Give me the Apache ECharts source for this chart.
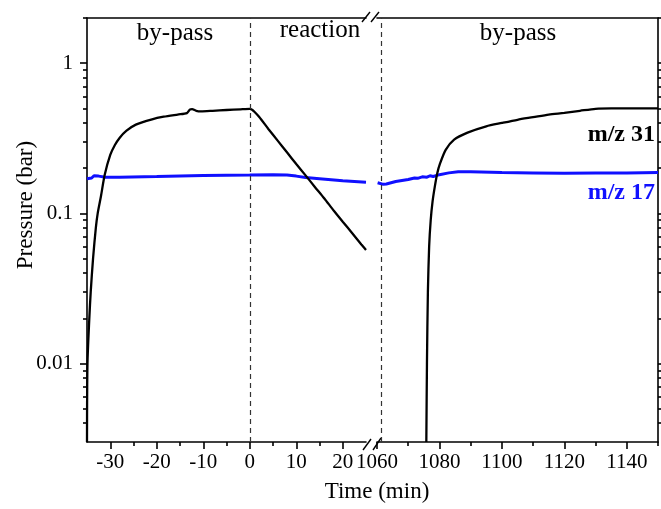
<!DOCTYPE html>
<html>
<head>
<meta charset="utf-8">
<script src="https://cdn.jsdelivr.net/npm/echarts@6/dist/echarts.min.js"></script>
<style>html,body{margin:0;padding:0;background:#fff}#c{width:661px;height:509px}</style>
</head>
<body>
<div id="c"></div>
<script>
// ---- data ----
const leftM31 = [[-35,0.003],[-34.9,0.01],[-34.5,0.02],[-34.2,0.03],[-33.7,0.05],[-33.1,0.08],[-32.7,0.1],[-32,0.13],[-31.2,0.18],[-30,0.245],[-29,0.285],[-28,0.318],[-26.5,0.355],[-24.5,0.39],[-21,0.423],[-18.5,0.44],[-15.5,0.455],[-13.5,0.465],[-12.9,0.49],[-12.4,0.495],[-11.5,0.482],[-10.5,0.478],[-8,0.482],[-5,0.488],[-2,0.493],[0,0.496],[0.5,0.49],[1,0.475],[2,0.44],[4,0.365],[6,0.305],[8,0.255],[10,0.213],[12,0.179],[14,0.15],[16,0.126],[18,0.105],[20,0.088],[22,0.074],[24,0.062],[25,0.057]];
const leftM17 = [[-35,0.170],[-34,0.172],[-33.5,0.178],[-32.5,0.177],[-31,0.174],[-28,0.174],[-20,0.176],[-10,0.179],[0,0.180],[5,0.181],[8,0.180],[10,0.177],[12,0.173],[15,0.170],[20,0.165],[25,0.161]];
const rightM31 = [[1075.8,0.003],[1076,0.01],[1076.3,0.03],[1076.7,0.06],[1077.2,0.09],[1077.8,0.12],[1078.5,0.15],[1079.3,0.185],[1080.2,0.215],[1082,0.265],[1084.7,0.31],[1089,0.345],[1095,0.38],[1100,0.40],[1105,0.42],[1110,0.437],[1115,0.455],[1120,0.467],[1125,0.482],[1130,0.497],[1135,0.5],[1150,0.5]];
const rightM17 = [[1060.2,0.160],[1062,0.156],[1063,0.157],[1066,0.163],[1070,0.168],[1072,0.172],[1073,0.171],[1074.5,0.175],[1076,0.174],[1077,0.178],[1078,0.176],[1080,0.181],[1083,0.186],[1086,0.189],[1090,0.189],[1100,0.187],[1110,0.186],[1120,0.185],[1130,0.186],[1140,0.186],[1150,0.187]];
const leftXRange = [-35, 25];
const rightXRange = [1060, 1150];
const leftXMajor = [-30,-20,-10,0,10,20];
const leftXMinor = [-25,-15,-5,5,15];
const rightXMajor = [1060,1080,1100,1120,1140];
const rightXMinor = [1070,1090,1110,1130,1150];
const yRange = [0.003, 2];
const yMajor = [0.01, 0.1, 1];
const yMajorLabels = ['0.01', '0.1', '1'];
const yMinor = [0.004,0.005,0.006,0.007,0.008,0.009,0.02,0.03,0.04,0.05,0.06,0.07,0.08,0.09,0.2,0.3,0.4,0.5,0.6,0.7,0.8,0.9,2];
const markerTimes = [0, 1061.3];

// ---- chart ----
const FONT = "'Liberation Serif','Times New Roman',serif";
const chart = echarts.init(document.getElementById('c'), null, {renderer: 'canvas'});
const LW = 1.6;
const lineStyle = {color: '#000', width: LW};
const lg = v => Math.log10(v);
const BLUE = '#1010ff';
const grids = [
  {left: 87, top: 18, width: 279, height: 424, containLabel: false, outerBoundsMode: 'none'},
  {left: 377, top: 18, width: 281, height: 424, containLabel: false, outerBoundsMode: 'none'}
];
function xAxes(gi, range, major, minor) {
  return [
    {type: 'value', gridIndex: gi, position: 'bottom', min: range[0], max: range[1],
     axisLine: {show: true, onZero: false, lineStyle: lineStyle}, splitLine: {show: false},
     axisTick: {show: true, inside: false, length: 7, customValues: major, lineStyle: lineStyle},
     axisLabel: {show: true, customValues: major, margin: 10, color: '#000', fontFamily: FONT, fontSize: 21,
       formatter: v => String(v)}},
    {type: 'value', gridIndex: gi, position: 'bottom', min: range[0], max: range[1],
     axisLine: {show: false, onZero: false}, splitLine: {show: false}, axisLabel: {show: false},
     axisTick: {show: true, inside: false, length: 4, customValues: minor, lineStyle: lineStyle}},
    {type: 'value', gridIndex: gi, position: 'top', min: range[0], max: range[1],
     axisLine: {show: true, onZero: false, lineStyle: lineStyle}, splitLine: {show: false},
     axisTick: {show: false}, axisLabel: {show: false}}
  ];
}
function yAxes(gi, pos, labels) {
  return [
    {type: 'log', logBase: 10, gridIndex: gi, position: pos, min: yRange[0], max: yRange[1],
     axisLine: {show: true, onZero: false, lineStyle: lineStyle}, splitLine: {show: false},
     axisTick: {show: false}, axisLabel: {show: false}, minorTick: {show: false}},
    {type: 'value', gridIndex: gi, position: pos, min: lg(yRange[0]), max: lg(yRange[1]),
     axisLine: {show: false, onZero: false}, splitLine: {show: false},
     axisTick: {show: true, inside: false, length: 7, customValues: yMajor.map(lg), lineStyle: lineStyle},
     axisLabel: {show: labels, customValues: yMajor.map(lg), margin: 14, color: '#000', fontFamily: FONT, fontSize: 21,
       formatter: v => { let best = 0; yMajor.forEach((m, i) => { if (Math.abs(lg(m) - v) < Math.abs(lg(yMajor[best]) - v)) best = i; }); return yMajorLabels[best]; }}},
    {type: 'value', gridIndex: gi, position: pos, min: lg(yRange[0]), max: lg(yRange[1]),
     axisLine: {show: false, onZero: false}, splitLine: {show: false}, axisLabel: {show: false},
     axisTick: {show: true, inside: false, length: 4, customValues: yMinor.map(lg), lineStyle: lineStyle}}
  ];
}
const dashed = {silent: true, symbol: ['none', 'none'], label: {show: false},
  lineStyle: {type: [5, 4], color: '#333', width: 1.2}};
const blackLine = {showSymbol: false, clip: true, smooth: 0.25,
  lineStyle: {color: '#000', width: 2.3}, z: 3};
const blueLine = {showSymbol: false, clip: true, smooth: false,
  lineStyle: {color: BLUE, width: 3}, z: 2};
const option = {
  animation: false,
  backgroundColor: '#fff',
  grid: grids,
  xAxis: [...xAxes(0, leftXRange, leftXMajor, leftXMinor), ...xAxes(1, rightXRange, rightXMajor, rightXMinor)],
  yAxis: [...yAxes(0, 'left', true), ...yAxes(1, 'right', false)],
  series: [
    Object.assign({name: 'm/z 31', type: 'line', xAxisIndex: 0, yAxisIndex: 0, data: leftM31,
     markLine: Object.assign({data: [{xAxis: markerTimes[0]}]}, dashed)}, blackLine),
    Object.assign({name: 'm/z 17', type: 'line', xAxisIndex: 0, yAxisIndex: 0, data: leftM17}, blueLine),
    Object.assign({name: 'm/z 31', type: 'line', xAxisIndex: 3, yAxisIndex: 3, data: rightM31,
     markLine: Object.assign({data: [{xAxis: markerTimes[1]}]}, dashed)}, blackLine),
    Object.assign({name: 'm/z 17', type: 'line', xAxisIndex: 3, yAxisIndex: 3, data: rightM17}, blueLine)
  ],
  graphic: [
    {type: 'text', x: 175, y: 33, style: {text: 'by-pass', font: '25px ' + FONT, fill: '#000', align: 'center', verticalAlign: 'middle'}},
    {type: 'text', x: 320, y: 30, style: {text: 'reaction', font: '25px ' + FONT, fill: '#000', align: 'center', verticalAlign: 'middle'}},
    {type: 'text', x: 518, y: 33, style: {text: 'by-pass', font: '25px ' + FONT, fill: '#000', align: 'center', verticalAlign: 'middle'}},
    {type: 'text', x: 655, y: 135, style: {text: 'm/z 31', font: 'bold 24px ' + FONT, fill: '#000', align: 'right', verticalAlign: 'middle'}},
    {type: 'text', x: 655, y: 193, style: {text: 'm/z 17', font: 'bold 24px ' + FONT, fill: BLUE, align: 'right', verticalAlign: 'middle'}},
    {type: 'text', x: 377, y: 492, style: {text: 'Time (min)', font: '23px ' + FONT, fill: '#000', align: 'center', verticalAlign: 'middle'}},
    {type: 'text', x: 26, y: 205, rotation: Math.PI / 2, style: {text: 'Pressure (bar)', font: '23px ' + FONT, fill: '#000', align: 'center', verticalAlign: 'middle'}},
    {type: 'line', shape: {x1: 362, y1: 22, x2: 370, y2: 12}, style: {stroke: '#000', lineWidth: 1.4}},
    {type: 'line', shape: {x1: 371, y1: 22, x2: 379, y2: 12}, style: {stroke: '#000', lineWidth: 1.4}},
    {type: 'line', shape: {x1: 363, y1: 450, x2: 371, y2: 439}, style: {stroke: '#000', lineWidth: 1.4}},
    {type: 'line', shape: {x1: 373, y1: 450, x2: 381, y2: 438}, style: {stroke: '#000', lineWidth: 1.4}}
  ]
};
chart.setOption(option);
</script>
</body>
</html>
